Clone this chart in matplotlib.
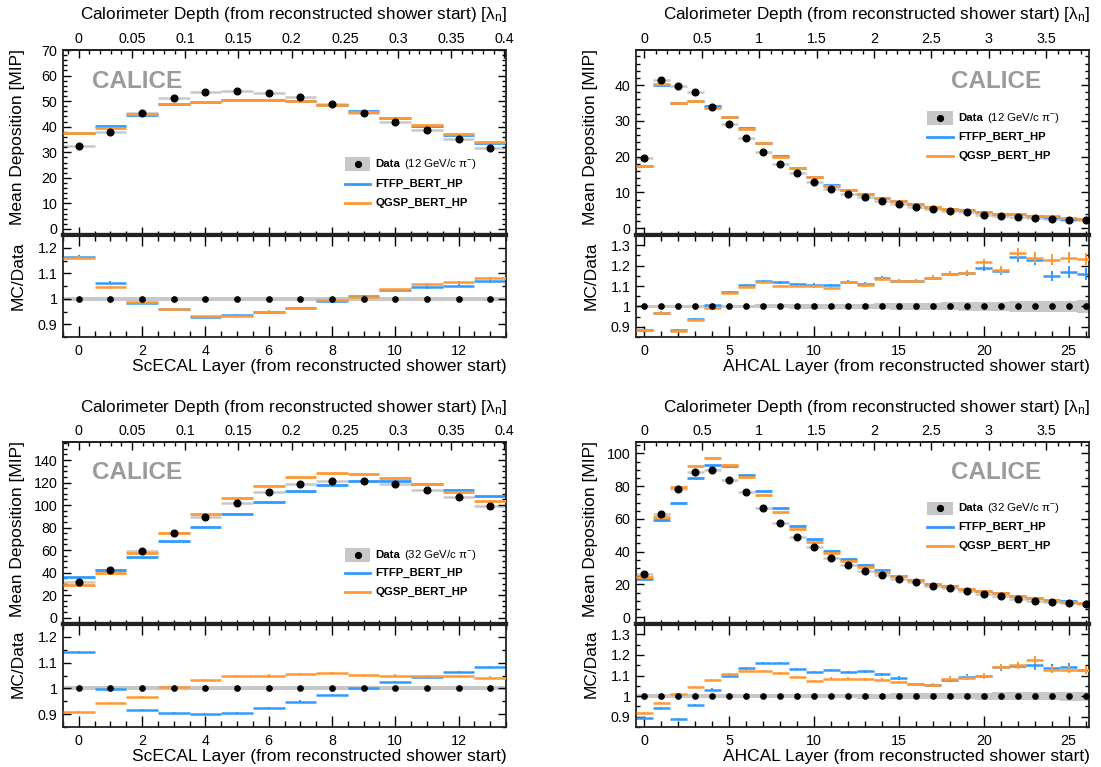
import matplotlib
matplotlib.use('Agg')
import matplotlib.pyplot as plt
import numpy as np
from matplotlib.ticker import MultipleLocator, FuncFormatter, FixedLocator
from matplotlib.lines import Line2D
from matplotlib.patches import Rectangle

plt.rcParams['font.family'] = ['Liberation Sans', 'DejaVu Sans']
plt.rcParams['mathtext.fontset'] = 'custom'
plt.rcParams['mathtext.rm'] = 'Liberation Sans'
plt.rcParams['mathtext.it'] = 'Liberation Sans:italic'
plt.rcParams['mathtext.bf'] = 'Liberation Sans:bold'

# ---------------- data ----------------
ecal_layers = list(range(14))
ahcal_layers = list(range(27))

data_12_ecal = [32.3, 37.9, 45.5, 51.1, 53.5, 54.0, 53.1, 51.8, 48.8, 45.5, 41.9, 38.6, 35.0, 31.5]
ftfp_12_ecal = [37.60, 40.29, 44.77, 49.06, 49.65, 50.54, 50.39, 49.88, 48.46, 46.00, 43.37, 40.34, 36.79, 33.64]
qgsp_12_ecal = [37.50, 39.61, 45.00, 49.00, 49.81, 50.38, 50.39, 49.88, 48.56, 45.82, 43.45, 40.80, 37.24, 34.02]
derr_12_ecal = [0.008, 0.008, 0.008, 0.008, 0.008, 0.008, 0.008, 0.008, 0.008, 0.008, 0.008, 0.008, 0.008, 0.008]
mcerr_12_ecal = [0.007, 0.006, 0.005, 0.005, 0.005, 0.005, 0.005, 0.005, 0.005, 0.005, 0.005, 0.006, 0.006, 0.007]

data_12_ahcal = [19.5, 41.4, 39.7, 38.0, 34.0, 29.1, 25.3, 21.2, 18.0, 15.3, 13.0, 10.9, 9.5, 8.6,
                 7.5, 6.7, 6.0, 5.3, 4.7, 4.4, 3.8, 3.4, 3.2, 2.8, 2.7, 2.3, 2.2]
ftfp_12_ahcal = [17.26, 40.03, 35.06, 35.64, 34.17, 31.20, 28.01, 23.81, 20.12, 16.95, 14.37, 12.04, 10.64, 9.55,
                 8.54, 7.52, 6.74, 6.05, 5.45, 5.11, 4.52, 3.99, 3.98, 3.44, 3.10, 2.69, 2.55]
qgsp_12_ahcal = [17.26, 40.16, 34.86, 35.42, 33.66, 31.05, 27.70, 23.74, 19.80, 16.83, 14.27, 11.88, 10.62, 9.50,
                 8.51, 7.52, 6.74, 6.05, 5.45, 5.13, 4.62, 4.01, 4.04, 3.47, 3.32, 2.85, 2.71]
derr_12_ahcal = [0.008, 0.008, 0.008, 0.008, 0.008, 0.008, 0.008, 0.010, 0.010, 0.011, 0.011, 0.012, 0.012, 0.013,
                 0.015, 0.016, 0.017, 0.018, 0.020, 0.021, 0.022, 0.023, 0.025, 0.026, 0.027, 0.028, 0.030]
mcerr_12_ahcal = [0.005, 0.005, 0.005, 0.005, 0.005, 0.005, 0.005, 0.006, 0.006, 0.006, 0.007, 0.007, 0.007, 0.008,
                  0.010, 0.010, 0.011, 0.012, 0.013, 0.014, 0.018, 0.020, 0.024, 0.025, 0.026, 0.028, 0.030]

data_32_ecal = [32.0, 42.3, 58.9, 74.9, 89.1, 101.5, 111.6, 118.4, 121.3, 121.6, 118.4, 113.6, 106.8, 99.4]
ftfp_32_ecal = [36.54, 42.13, 54.01, 67.78, 80.10, 91.96, 103.01, 112.36, 118.02, 121.72, 121.48, 118.83, 113.53, 107.65]
qgsp_32_ecal = [29.09, 39.93, 57.02, 75.42, 91.95, 106.27, 117.18, 124.91, 128.46, 127.92, 124.32, 119.05, 111.93, 103.57]
derr_32_ecal = [0.008, 0.008, 0.008, 0.008, 0.008, 0.008, 0.008, 0.008, 0.008, 0.008, 0.008, 0.008, 0.008, 0.008]
mcerr_32_ecal = [0.005, 0.005, 0.004, 0.004, 0.004, 0.004, 0.004, 0.004, 0.004, 0.004, 0.004, 0.004, 0.005, 0.005]

data_32_ahcal = [26.4, 63.0, 78.5, 88.6, 90.0, 83.9, 76.2, 66.5, 57.5, 49.2, 42.7, 36.0, 31.7, 28.5,
                 25.8, 23.4, 21.3, 19.3, 17.7, 15.9, 14.4, 12.8, 11.2, 10.0, 9.3, 8.5, 7.9]
ftfp_32_ahcal = [23.60, 59.28, 69.79, 84.70, 92.88, 92.04, 86.56, 77.27, 66.64, 55.69, 47.70, 40.54, 35.38, 31.95,
                 28.53, 25.44, 22.51, 20.34, 19.10, 17.41, 15.83, 14.58, 12.84, 11.49, 10.57, 9.72, 8.90]
qgsp_32_ahcal = [24.29, 60.98, 79.29, 92.50, 96.93, 92.79, 85.50, 74.55, 64.06, 53.73, 45.86, 39.06, 34.39, 30.84,
                 27.84, 24.97, 22.51, 20.30, 19.20, 17.33, 15.80, 14.60, 12.87, 11.74, 10.48, 9.58, 8.90]
derr_32_ahcal = [0.008, 0.008, 0.008, 0.008, 0.008, 0.008, 0.008, 0.009, 0.009, 0.010, 0.010, 0.011, 0.011, 0.012,
                 0.012, 0.013, 0.013, 0.015, 0.015, 0.016, 0.017, 0.018, 0.019, 0.020, 0.021, 0.022, 0.022]
mcerr_32_ahcal = [0.005, 0.005, 0.005, 0.005, 0.005, 0.005, 0.005, 0.005, 0.005, 0.005, 0.005, 0.006, 0.006, 0.007,
                  0.008, 0.008, 0.009, 0.010, 0.011, 0.012, 0.013, 0.015, 0.016, 0.020, 0.017, 0.017, 0.018]

# tick labels of the depth (top) axes
ecal_depth_ticks = [0, 0.05, 0.1, 0.15, 0.2, 0.25, 0.3, 0.35, 0.4]
ahcal_depth_ticks = [0, 0.5, 1, 1.5, 2, 2.5, 3, 3.5]

C_BLUE = '#3399ff'
C_ORANGE = '#ff9933'
C_GRAY = '#c8c8c8'
C_LOGO = '#9b9b9b'
C_FRAME = '#222222'

W, H = 1101, 767
fig = plt.figure(figsize=(W / 100, H / 100), dpi=100)


def frac_rect(x0, x1, ytop, ybot):
    return [x0 / W, 1 - ybot / H, (x1 - x0) / W, (ybot - ytop) / H]


def fmt(v, p):
    v = round(v, 6)
    if v == 0:
        return '0'
    return f'{v:g}'


def style_axis(ax, lw=1.3):
    for s in ax.spines.values():
        s.set_linewidth(lw)
        s.set_color(C_FRAME)
    ax.tick_params(which='both', direction='in', colors='black', labelsize=10.3, width=1.0)
    ax.tick_params(which='major', length=6)
    ax.tick_params(which='minor', length=3.2)


def panel(col, row, layers, data, derr, ftfp, qgsp, mcerr, energy, ylim_main, ymaj, ymin,
          ylim_ratio, lam_per_layer, lam_ticks, lam_min, xmaj, xmin, xlim, det, logo_x, leg_x, leg_y,
          title_x):
    x0, x1 = col
    ytop, ysep, ybot = row
    ax = fig.add_axes(frac_rect(x0, x1, ytop, ysep))
    axr = fig.add_axes(frac_rect(x0, x1, ysep, ybot))

    layers = np.asarray(layers, float)
    data = np.asarray(data, float)
    derr = np.asarray(derr, float)
    ftfp = np.asarray(ftfp, float)
    qgsp = np.asarray(qgsp, float)
    mcerr = np.asarray(mcerr, float)

    # ---- main ----
    ax.hlines(data, layers - 0.5, layers + 0.5, color=C_GRAY, lw=1.8, zorder=1)
    ax.hlines(ftfp, layers - 0.5, layers + 0.5, color=C_BLUE, lw=2.0, zorder=2)
    ax.hlines(qgsp, layers - 0.5, layers + 0.5, color=C_ORANGE, lw=2.0, zorder=3)
    ax.plot(layers, data, 'o', color='black', ms=4.8, zorder=5)
    ax.set_xlim(*xlim)
    ax.set_ylim(*ylim_main)
    style_axis(ax)
    ax.spines['bottom'].set_linewidth(3.0)
    ax.yaxis.set_major_locator(MultipleLocator(ymaj))
    ax.yaxis.set_minor_locator(MultipleLocator(ymin))
    ax.yaxis.set_major_formatter(FuncFormatter(fmt))
    ax.xaxis.set_major_locator(MultipleLocator(xmaj))
    ax.xaxis.set_minor_locator(MultipleLocator(xmin))
    ax.tick_params(which='both', left=True, right=True, bottom=True, top=False,
                   labelbottom=False)
    ax.tick_params(axis='y', pad=4)

    sec = ax.secondary_xaxis('top', functions=(lambda x: x * lam_per_layer,
                                               lambda l: l / lam_per_layer))
    sec.xaxis.set_major_locator(FixedLocator(lam_ticks))
    sec.xaxis.set_minor_locator(MultipleLocator(lam_min))
    sec.xaxis.set_major_formatter(FuncFormatter(fmt))
    sec.tick_params(which='both', direction='in', labelsize=10.3, pad=3, width=1.0)
    sec.tick_params(which='major', length=6)
    sec.tick_params(which='minor', length=3.2)
    sec.spines['top'].set_linewidth(1.3)

    # logo
    ax.text(logo_x, 0.83, 'CALICE', transform=ax.transAxes, color=C_LOGO,
            fontsize=17.5, fontweight='bold', ha='left', va='center')

    # legend (manual keys)
    lx0, lx1 = leg_x, leg_x + 0.056
    ax.add_patch(Rectangle((lx0, leg_y[0] - 0.036), lx1 - lx0, 0.072, transform=ax.transAxes,
                           color=C_GRAY, lw=0, zorder=6))
    ax.add_line(Line2D([(lx0 + lx1) / 2], [leg_y[0]], transform=ax.transAxes, marker='o',
                       color='black', ms=4.2, zorder=7))
    ax.add_line(Line2D([lx0, lx1], [leg_y[1]] * 2, transform=ax.transAxes, color=C_BLUE, lw=2.0, zorder=7))
    ax.add_line(Line2D([lx0, lx1], [leg_y[2]] * 2, transform=ax.transAxes, color=C_ORANGE, lw=2.0, zorder=7))
    tx = lx1 + 0.012
    t1 = ax.text(tx, leg_y[0], 'Data', transform=ax.transAxes, fontsize=8.2,
                 fontweight='bold', ha='left', va='center')
    ax.annotate(f'({energy} GeV/c π$^{{-}}$)', xy=(1, 0.5), xycoords=t1, xytext=(3, 0),
                textcoords='offset points', fontsize=8.2, ha='left', va='center')
    ax.text(tx, leg_y[1], 'FTFP_BERT_HP', transform=ax.transAxes, fontsize=8.2,
            fontweight='bold', ha='left', va='center')
    ax.text(tx, leg_y[2], 'QGSP_BERT_HP', transform=ax.transAxes, fontsize=8.2,
            fontweight='bold', ha='left', va='center')

    # ---- ratio ----
    rf = ftfp / data
    rq = qgsp / data
    axr.bar(layers, 2 * derr, bottom=1 - derr, width=1.0, color=C_GRAY, lw=0, zorder=1)
    axr.hlines(rf, layers - 0.5, layers + 0.5, color=C_BLUE, lw=1.8, zorder=2)
    axr.vlines(layers, rf - mcerr, rf + mcerr, color=C_BLUE, lw=1.4, zorder=2)
    axr.hlines(rq, layers - 0.5, layers + 0.5, color=C_ORANGE, lw=1.8, zorder=3)
    axr.vlines(layers, rq - mcerr, rq + mcerr, color=C_ORANGE, lw=1.4, zorder=3)
    axr.plot(layers, data / data, 'o', color='black', ms=3.8, zorder=5)
    axr.set_xlim(*xlim)
    axr.set_ylim(*ylim_ratio)
    style_axis(axr)
    axr.spines['top'].set_linewidth(3.0)
    axr.yaxis.set_major_locator(MultipleLocator(0.1))
    axr.yaxis.set_minor_locator(MultipleLocator(0.05))
    axr.yaxis.set_major_formatter(FuncFormatter(fmt))
    axr.xaxis.set_major_locator(MultipleLocator(xmaj))
    axr.xaxis.set_minor_locator(MultipleLocator(xmin))
    axr.xaxis.set_major_formatter(FuncFormatter(fmt))
    axr.tick_params(which='both', left=True, right=True, bottom=True, top=True)
    axr.tick_params(axis='x', which='major', length=8, pad=5)
    axr.tick_params(axis='x', which='minor', length=4)
    axr.tick_params(axis='y', pad=4)

    # ---- titles ----
    ylab_x = x0 - 45
    fig.text(ylab_x / W, 1 - (ytop - 1) / H, 'Mean Deposition [MIP]', rotation=90,
             ha='center', va='top', fontsize=12.5)
    fig.text(ylab_x / W, 1 - (ysep + 6) / H, 'MC/Data', rotation=90,
             ha='center', va='top', fontsize=12.5)
    fig.text(title_x / W, 1 - (ytop - 35) / H,
             'Calorimeter Depth (from reconstructed shower start) [λ$_{\\mathrm{n}}$]',
             ha='right', va='center', fontsize=12.3)
    fig.text(title_x / W, 1 - (ybot + 29) / H, f'{det} Layer (from reconstructed shower start)',
             ha='right', va='center', fontsize=12.5)


LEFT = (63, 506)
RIGHT = (636, 1089)
ROW1 = (50, 235, 337)
ROW2 = (442, 624, 727)

ECAL_LAM = 0.02974
AHCAL_LAM = 0.1478

panel(LEFT, ROW1, ecal_layers, data_12_ecal, derr_12_ecal, ftfp_12_ecal, qgsp_12_ecal, mcerr_12_ecal,
      12, (-2.35, 70), 10, 2, (0.85, 1.25), ECAL_LAM, ecal_depth_ticks, 0.01, 2, 0.5, (-0.5, 13.5), 'ScECAL',
      0.065, 0.637, (0.384, 0.276, 0.173), 507)
panel(RIGHT, ROW1, ahcal_layers, data_12_ahcal, derr_12_ahcal, ftfp_12_ahcal, qgsp_12_ahcal, mcerr_12_ahcal,
      12, (-1.9, 49.8), 10, 2, (0.85, 1.35), AHCAL_LAM, ahcal_depth_ticks, 0.1, 5, 1, (-0.5, 26.2), 'AHCAL',
      0.696, 0.643, (0.632, 0.530, 0.427), 1090)
panel(LEFT, ROW2, ecal_layers, data_32_ecal, derr_32_ecal, ftfp_32_ecal, qgsp_32_ecal, mcerr_32_ecal,
      32, (-5.6, 156), 20, 5, (0.85, 1.25), ECAL_LAM, ecal_depth_ticks, 0.01, 2, 0.5, (-0.5, 13.5), 'ScECAL',
      0.065, 0.637, (0.379, 0.282, 0.177), 507)
panel(RIGHT, ROW2, ahcal_layers, data_32_ahcal, derr_32_ahcal, ftfp_32_ahcal, qgsp_32_ahcal, mcerr_32_ahcal,
      32, (-4.1, 106.9), 20, 5, (0.85, 1.35), AHCAL_LAM, ahcal_depth_ticks, 0.1, 5, 1, (-0.5, 26.2), 'AHCAL',
      0.696, 0.643, (0.636, 0.534, 0.429), 1090)

fig.savefig('out.png', dpi=100)
